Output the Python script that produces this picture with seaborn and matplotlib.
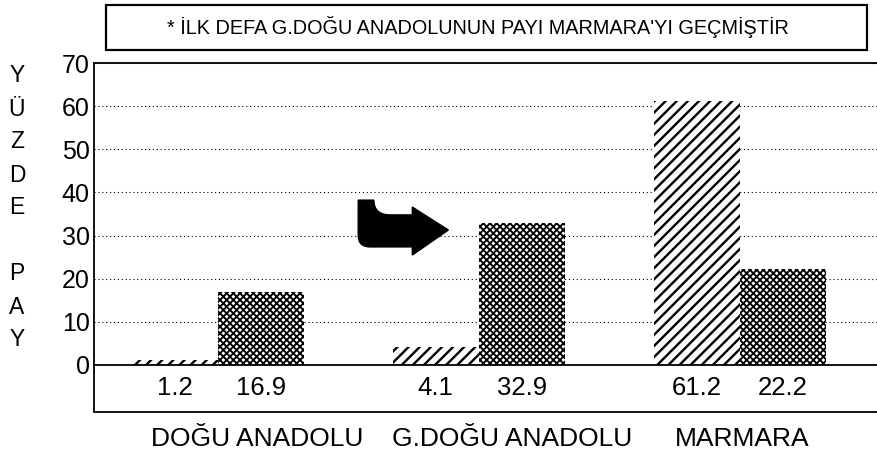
import matplotlib
matplotlib.use('Agg')
import pandas as pd
import matplotlib.pyplot as plt
import seaborn as sns
from matplotlib.path import Path
from matplotlib.patches import PathPatch, Rectangle
from matplotlib.lines import Line2D
import matplotlib.transforms as mtransforms

# data
regions = ['DOĞU ANADOLU', 'G.DOĞU ANADOLU', 'MARMARA']
periods = ['önceki', 'son']
share_before = [1.2, 4.1, 61.2]
share_after = [16.9, 32.9, 22.2]
yticks = [0, 10, 20, 30, 40, 50, 60, 70]
title_text = "* İLK DEFA G.DOĞU ANADOLUNUN PAYI MARMARA'YI GEÇMİŞTİR"
ylabel_text = 'YÜZDE PAY'

df = pd.DataFrame({
    'bolge': regions * 2,
    'donem': [periods[0]] * 3 + [periods[1]] * 3,
    'pay': share_before + share_after,
})

sns.set_theme(style='white')
plt.rcParams['font.family'] = ['Liberation Sans', 'DejaVu Sans']
plt.rcParams['hatch.color'] = 'black'
plt.rcParams['hatch.linewidth'] = 1.7

fig = plt.figure(figsize=(8.78, 4.55), dpi=100)
ax = fig.add_axes([94 / 878, 90 / 455, 784 / 878, 302 / 455])

sns.barplot(data=df, x='bolge', y='pay', hue='donem', hue_order=periods,
            palette=['white', 'white'], saturation=1, width=0.66, gap=0,
            legend=False, ax=ax, linewidth=0, edgecolor='black')

for p in ax.patches:
    cx = p.get_x() + p.get_width() / 2
    left = cx < round(cx)
    p.set_edgecolor('black')
    p.set_linewidth(0)
    p.set_zorder(2)
    if left:
        p.set_hatch('///')
    elif hasattr(p, 'set_hatch_linewidth'):
        p.set_hatch('xxxxx')
        p.set_hatch_linewidth(1.35)
    else:
        p.set_hatch('xxxx')

ax.set_xlim(-0.475, 2.53)
ax.set_ylim(0, 70)
ax.set_yticks(yticks)
ax.set_xticks([])
ax.set_xlabel('')
ax.set_ylabel('')
ax.tick_params(axis='y', length=0, pad=3, labelsize=18, colors='black')

ax.grid(axis='y', color='black', linestyle=(0, (1, 2.5)), linewidth=0.8)
ax.set_axisbelow(True)

ax.spines['right'].set_visible(False)
for s in ['top', 'left', 'bottom']:
    ax.spines[s].set_color('black')
    ax.spines[s].set_linewidth(1.3)

# table below the axis
ax.add_line(Line2D([0, 0], [-0.156, 0], transform=ax.transAxes, color='black',
                   lw=1.3, clip_on=False))
ax.add_line(Line2D([0, 1], [-0.156, -0.156], transform=ax.transAxes, color='black',
                   lw=1.3, clip_on=False))

trans = mtransforms.blended_transform_factory(ax.transData, ax.transAxes)
for p in ax.patches:
    cx = p.get_x() + p.get_width() / 2
    ax.text(cx, -0.099, f'{p.get_height():.1f}', transform=trans, ha='center',
            va='baseline', fontsize=18.5, color='black', clip_on=False)

label_x = [0.15, 1.126, 2.01]
for x, name in zip(label_x, regions):
    ax.text(x, -0.268, name, transform=trans, ha='center', va='baseline',
            fontsize=19, color='black', clip_on=False)

# vertical axis title, one letter per row
for i, ch in enumerate(ylabel_text):
    fig.text(17 / 878, 1 - (76 + 33 * i) / 455, ch, ha='center', va='center',
             fontsize=16.5, color='black')

# boxed note at the top
fig.add_artist(Rectangle((106 / 878, 1 - 50 / 455), 761 / 878, 45 / 455,
                         transform=fig.transFigure, fill=False,
                         edgecolor='black', lw=1.6))
fig.text(478 / 878, 1 - 27.5 / 455, title_text, ha='center', va='center',
         fontsize=14.3, color='black')

# bent black arrow pointing at G.Doğu Anadolu
verts = [(0.337, 0.546), (0.337, 0.430), (0.337, 0.391), (0.352, 0.391),
         (0.406, 0.391), (0.406, 0.364), (0.452, 0.447), (0.406, 0.523),
         (0.406, 0.497), (0.378, 0.497), (0.357, 0.497), (0.357, 0.546),
         (0.337, 0.546)]
codes = [Path.MOVETO, Path.LINETO, Path.CURVE3, Path.CURVE3,
         Path.LINETO, Path.LINETO, Path.LINETO, Path.LINETO,
         Path.LINETO, Path.LINETO, Path.CURVE3, Path.CURVE3,
         Path.CLOSEPOLY]
ax.add_patch(PathPatch(Path(verts, codes), facecolor='black', edgecolor='black',
                       lw=1, transform=ax.transAxes, zorder=3))

fig.savefig('out.png', dpi=100)
